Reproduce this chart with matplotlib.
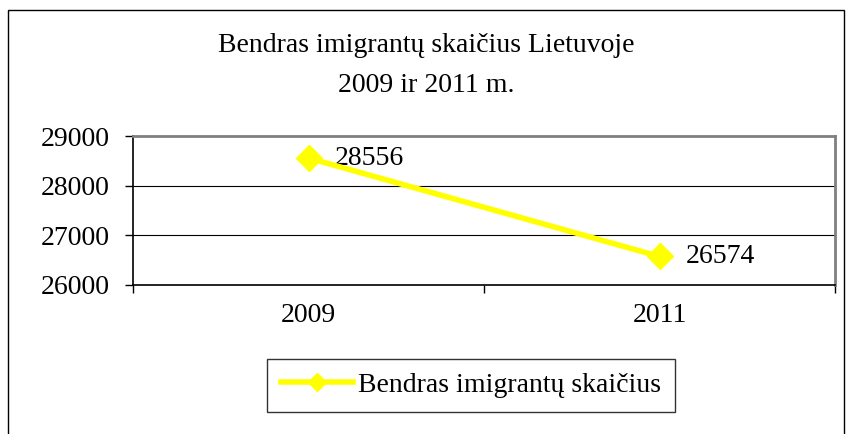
import matplotlib
matplotlib.use("Agg")
import matplotlib.pyplot as plt
from matplotlib.patches import Rectangle

categories = ["2009", "2011"]
values = [28556, 26574]
series_name = "Bendras imigrantų skaičius"
title_lines = ["Bendras imigrantų skaičius Lietuvoje", "2009 ir 2011 m."]
y_ticks = [26000, 27000, 28000, 29000]

plt.rcParams['font.family'] = ['Liberation Serif', 'DejaVu Serif']
FS = 20

W, H = 847, 434
fig = plt.figure(figsize=(W / 100, H / 100), dpi=100)
fig.patch.set_facecolor("white")

# outer chart border
fig.patches.append(Rectangle((8 / W, -0.05), (844 - 8) / W, 1 - 10 / H + 0.05,
                             transform=fig.transFigure, fill=False,
                             edgecolor="black", linewidth=1.0))

ax = fig.add_axes([133 / W, 1 - 285 / H, (835 - 133) / W, (285 - 136) / H])
x = list(range(len(categories)))
line, = ax.plot(x, values, color="#FFFF00", linewidth=4, marker="D",
                markersize=13, markerfacecolor="#FFFF00",
                markeredgecolor="#FFFF00", label=series_name, zorder=5,
                clip_on=False)
for xi, v in zip(x, values):
    ax.annotate(str(v), (xi, v), xytext=(19, 0), textcoords="offset points",
                ha="left", va="center", fontsize=FS, color="black")

ax.set_xlim(-0.5, len(categories) - 0.5)
ax.set_ylim(y_ticks[0], y_ticks[-1])
ax.set_yticks(y_ticks)
ax.set_yticklabels([str(t) for t in y_ticks], fontsize=FS)
ax.set_xticks(x)
ax.set_xticklabels(categories, fontsize=FS)
ax.set_xticks([i - 0.5 for i in range(len(categories) + 1)], minor=True)
ax.tick_params(axis="x", which="major", length=0, pad=13)
ax.tick_params(axis="x", which="minor", length=6, direction="out", width=1)
ax.tick_params(axis="y", length=6, direction="out", width=1, pad=11)

for t in y_ticks[1:-1]:
    ax.axhline(t, color="black", linewidth=0.8, zorder=1)

ax.spines["left"].set_color("black")
ax.spines["bottom"].set_color("black")
ax.spines["left"].set_linewidth(1.2)
ax.spines["bottom"].set_linewidth(1.2)
ax.spines["top"].set_color("#808080")
ax.spines["right"].set_color("#808080")
ax.spines["top"].set_linewidth(2)
ax.spines["right"].set_linewidth(2)

fig.text(426 / W, 1 - 52 / H, title_lines[0], ha="center", va="baseline", fontsize=FS)
fig.text(426 / W, 1 - 92 / H, title_lines[1], ha="center", va="baseline", fontsize=FS)

leg = fig.legend(handles=[line], loc="center",
                 bbox_to_anchor=(471 / W, 1 - 385.5 / H), fontsize=FS,
                 frameon=True, fancybox=False, handlelength=2.6,
                 handletextpad=0.2, borderpad=0.48, borderaxespad=0)
leg.get_frame().set_edgecolor("black")
leg.get_frame().set_linewidth(1.0)
for h in leg.legend_handles:
    h.set_markersize(9)

fig.savefig("out.png", dpi=100)
